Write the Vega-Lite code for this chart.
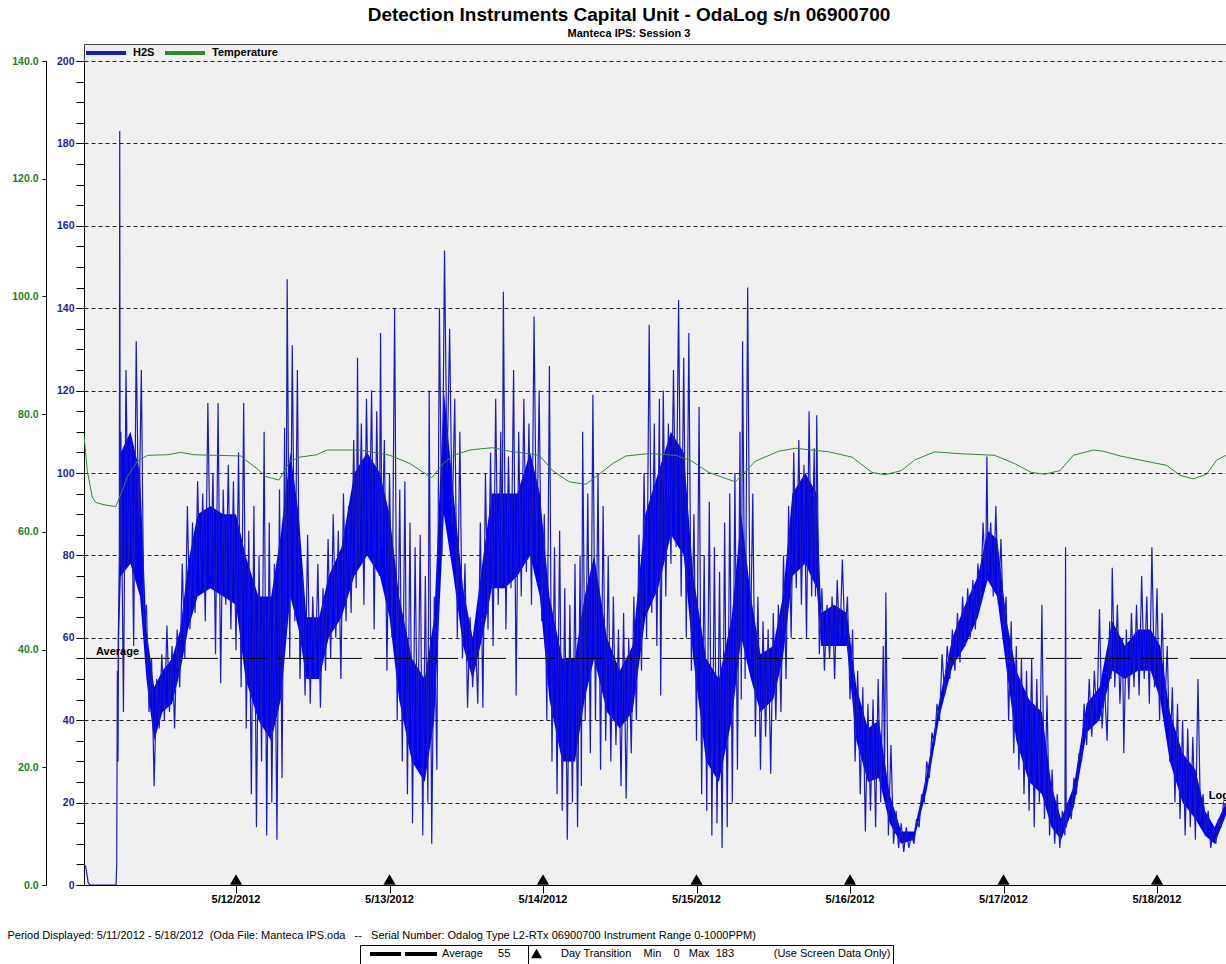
{
"$schema": "https://vega.github.io/schema/vega-lite/v6.json",
"width": 1142, "height": 841,
"autosize": {"type": "none"},
"padding": {"left": 84, "top": 44, "right": 0, "bottom": 79},
"background": "white",
"title": {"text": "Detection Instruments Capital Unit - OdaLog s/n 06900700", "subtitle": "Manteca IPS: Session 3", "anchor": "middle", "dx": -26, "fontSize": 19, "fontWeight": "bold", "color": "black", "subtitleFontSize": 11, "subtitleFontWeight": "bold", "subtitleColor": "black", "offset": 5, "subtitlePadding": 3},
"config": {"font": "Liberation Sans", "view": {"fill": "#f0f0f0", "stroke": "#404040", "strokeWidth": 1}},
"datasets": {
"h2s": [
{"t":0.24,"v":5},{"t":0.5,"v":4.5},{"t":0.9,"v":0.5},{"t":1.2,"v":0},{"t":5.0,"v":0},{"t":5.25,"v":0},{"t":5.35,"v":5},{"t":5.45,"v":52},{"t":5.55,"v":30},{"t":5.65,"v":64},{"t":5.75,"v":70},{"t":5.82,"v":183},{"t":5.9,"v":78},
{"t":6.0,"v":110},{"t":6.4,"v":42},{"t":6.8,"v":125},{"t":7.2,"v":78},{"t":7.6,"v":108},{"t":8.0,"v":58},{"t":8.4,"v":132},{"t":8.8,"v":85},{"t":9.2,"v":125},{"t":9.6,"v":62},{"t":10.0,"v":68},{"t":10.4,"v":42},{"t":10.8,"v":55},{"t":11.2,"v":24},{"t":11.6,"v":50},{"t":12.0,"v":38},{"t":12.4,"v":56},{"t":12.8,"v":40},{"t":13.2,"v":63},{"t":13.6,"v":42},{"t":14.0,"v":58},{"t":14.4,"v":38},{"t":14.8,"v":62},{"t":15.2,"v":48},{"t":15.6,"v":78},{"t":16.0,"v":55},{"t":16.4,"v":92},{"t":16.8,"v":62},{"t":17.2,"v":88},{"t":17.6,"v":66},{"t":18.0,"v":98},{"t":18.4,"v":72},{"t":18.8,"v":95},{"t":19.2,"v":64},{"t":19.6,"v":117},{"t":20.0,"v":75},{"t":20.4,"v":100},{"t":20.8,"v":56},{"t":21.2,"v":117},{"t":21.6,"v":49},{"t":22.0,"v":96},{"t":22.4,"v":68},{"t":22.8,"v":102},{"t":23.2,"v":62},{"t":23.6,"v":98},{"t":24.0,"v":57},{"t":24.4,"v":105},
{"t":24.8,"v":48},{"t":25.2,"v":117},{"t":25.6,"v":38},{"t":26.0,"v":86},{"t":26.4,"v":22},{"t":26.8,"v":92},{"t":27.2,"v":14},{"t":27.6,"v":80},{"t":28.0,"v":30},{"t":28.4,"v":110},{"t":28.8,"v":12},{"t":29.2,"v":88},{"t":29.6,"v":20},{"t":30.0,"v":78},{"t":30.4,"v":11},{"t":30.8,"v":96},{"t":31.2,"v":26},{"t":31.6,"v":111},{"t":31.8,"v":60},{"t":32.0,"v":147},{"t":32.4,"v":55},{"t":32.8,"v":131},{"t":33.2,"v":64},{"t":33.6,"v":125},{"t":34.0,"v":50},{"t":34.4,"v":75},{"t":34.8,"v":46},{"t":35.2,"v":85},{"t":35.6,"v":44},{"t":36.0,"v":70},{"t":36.4,"v":50},{"t":36.8,"v":78},{"t":37.2,"v":43},{"t":37.6,"v":72},{"t":38.0,"v":52},{"t":38.4,"v":84},{"t":38.8,"v":55},{"t":39.2,"v":90},{"t":39.6,"v":60},{"t":40.0,"v":86},{"t":40.4,"v":50},{"t":40.8,"v":95},{"t":41.2,"v":64},{"t":41.6,"v":92},{"t":42.0,"v":66},{"t":42.4,"v":108},{"t":42.8,"v":72},{"t":43.0,"v":128},{"t":43.2,"v":78},{"t":43.6,"v":112},{"t":44.0,"v":68},{"t":44.4,"v":118},{"t":44.8,"v":80},{"t":45.2,"v":120},{"t":45.6,"v":62},{"t":46.0,"v":115},{"t":46.4,"v":75},{"t":46.6,"v":134},{"t":46.8,"v":82},{"t":47.2,"v":108},{"t":47.6,"v":52},{"t":48.0,"v":100},{"t":48.4,"v":60},{"t":48.8,"v":140},
{"t":49.2,"v":40},{"t":49.6,"v":96},{"t":50.0,"v":30},{"t":50.4,"v":98},{"t":50.8,"v":22},{"t":51.2,"v":88},{"t":51.6,"v":15},{"t":52.0,"v":82},{"t":52.4,"v":30},{"t":52.8,"v":85},{"t":53.2,"v":12},{"t":53.6,"v":75},{"t":54.0,"v":20},{"t":54.2,"v":120},{"t":54.6,"v":10},{"t":55.0,"v":70},{"t":55.4,"v":28},{"t":55.8,"v":140},{"t":56.2,"v":80},{"t":56.6,"v":154},{"t":57.0,"v":100},{"t":57.4,"v":135},{"t":57.8,"v":88},{"t":58.2,"v":118},{"t":58.6,"v":60},{"t":59.0,"v":110},{"t":59.4,"v":55},{"t":59.8,"v":78},{"t":60.2,"v":43},{"t":60.6,"v":65},{"t":61.0,"v":48},{"t":61.4,"v":62},{"t":61.8,"v":44},{"t":62.2,"v":88},{"t":62.6,"v":43},{"t":63.0,"v":100},{"t":63.4,"v":62},{"t":63.8,"v":105},{"t":64.2,"v":58},{"t":64.6,"v":118},{"t":65.0,"v":68},{"t":65.4,"v":110},{"t":65.6,"v":72},{"t":65.8,"v":144},{"t":66.2,"v":62},{"t":66.6,"v":104},{"t":67.0,"v":72},{"t":67.4,"v":125},{"t":67.8,"v":46},{"t":68.2,"v":110},{"t":68.6,"v":70},{"t":69.0,"v":118},{"t":69.4,"v":76},{"t":69.8,"v":112},{"t":70.2,"v":68},{"t":70.6,"v":138},{"t":71.0,"v":78},{"t":71.4,"v":120},{"t":71.8,"v":64},
{"t":72.2,"v":90},{"t":72.6,"v":40},{"t":73.0,"v":126},{"t":73.4,"v":30},{"t":73.8,"v":82},{"t":74.2,"v":22},{"t":74.6,"v":86},{"t":75.0,"v":18},{"t":75.4,"v":72},{"t":75.8,"v":11},{"t":76.2,"v":68},{"t":76.6,"v":20},{"t":77.0,"v":78},{"t":77.4,"v":14},{"t":77.8,"v":80},{"t":78.0,"v":24},{"t":78.2,"v":110},{"t":78.6,"v":40},{"t":79.0,"v":95},{"t":79.4,"v":32},{"t":79.8,"v":119},{"t":80.2,"v":40},{"t":80.6,"v":100},{"t":81.0,"v":28},{"t":81.4,"v":92},{"t":81.8,"v":35},{"t":82.2,"v":80},{"t":82.6,"v":30},{"t":83.0,"v":70},{"t":83.4,"v":34},{"t":83.8,"v":62},{"t":84.2,"v":24},{"t":84.6,"v":66},{"t":85.0,"v":21},{"t":85.4,"v":60},{"t":85.8,"v":32},{"t":86.2,"v":70},{"t":86.6,"v":40},{"t":87.0,"v":85},{"t":87.4,"v":52},{"t":87.8,"v":100},{"t":88.2,"v":60},{"t":88.6,"v":136},{"t":89.0,"v":66},{"t":89.4,"v":112},{"t":89.8,"v":58},{"t":90.2,"v":118},{"t":90.4,"v":46},{"t":90.8,"v":120},{"t":91.2,"v":70},{"t":91.6,"v":112},{"t":92.0,"v":78},{"t":92.4,"v":125},{"t":92.8,"v":82},
{"t":93.2,"v":142},{"t":93.6,"v":70},{"t":94.0,"v":128},{"t":94.4,"v":60},{"t":94.8,"v":134},{"t":95.2,"v":52},{"t":95.6,"v":90},{"t":96.0,"v":35},{"t":96.4,"v":116},{"t":96.8,"v":22},{"t":97.2,"v":80},{"t":97.6,"v":18},{"t":98.0,"v":93},{"t":98.4,"v":12},{"t":98.8,"v":82},{"t":99.2,"v":15},{"t":99.6,"v":76},{"t":100.0,"v":9},{"t":100.4,"v":88},{"t":100.8,"v":14},{"t":101.2,"v":95},{"t":101.6,"v":20},{"t":102.0,"v":100},{"t":102.4,"v":28},{"t":102.8,"v":110},{"t":103.0,"v":45},{"t":103.2,"v":132},{"t":103.6,"v":50},{"t":104.0,"v":145},{"t":104.4,"v":55},{"t":104.8,"v":95},{"t":105.2,"v":36},{"t":105.6,"v":70},{"t":106.0,"v":28},{"t":106.4,"v":64},{"t":106.8,"v":36},{"t":107.2,"v":62},{"t":107.6,"v":27},{"t":108.0,"v":66},{"t":108.4,"v":40},{"t":108.8,"v":68},{"t":109.2,"v":42},{"t":109.6,"v":80},{"t":110.0,"v":50},{"t":110.4,"v":92},{"t":110.8,"v":60},{"t":111.2,"v":105},{"t":111.6,"v":72},{"t":112.0,"v":108},{"t":112.4,"v":68},{"t":112.8,"v":102},{"t":113.2,"v":60},{"t":113.6,"v":115},{"t":114.0,"v":70},{"t":114.4,"v":106},{"t":114.6,"v":70},{"t":114.8,"v":114},{"t":115.2,"v":56},{"t":115.6,"v":72},{"t":116.0,"v":52},{"t":116.4,"v":68},{"t":116.8,"v":55},{"t":117.2,"v":70},{"t":117.6,"v":50},{"t":118.0,"v":74},{"t":118.4,"v":58},{"t":118.8,"v":79},{"t":119.2,"v":60},{"t":119.6,"v":70},{"t":120.0,"v":45},{"t":120.4,"v":62},{"t":120.8,"v":30},{"t":121.2,"v":52},{"t":121.6,"v":22},{"t":122.0,"v":48},{"t":122.4,"v":13},{"t":122.8,"v":44},
{"t":123.2,"v":18},{"t":123.6,"v":45},{"t":124.0,"v":14},{"t":124.4,"v":50},{"t":124.8,"v":20},{"t":125.2,"v":58},{"t":125.4,"v":26},{"t":125.6,"v":71},{"t":126.0,"v":12},{"t":126.4,"v":34},{"t":126.8,"v":10},{"t":127.2,"v":18},{"t":127.6,"v":9},{"t":128.0,"v":15},{"t":128.4,"v":8},{"t":128.8,"v":14},{"t":129.2,"v":9},{"t":129.6,"v":12},{"t":130.0,"v":10},{"t":130.4,"v":16},{"t":130.8,"v":14},{"t":131.2,"v":22},{"t":131.6,"v":20},{"t":132.0,"v":30},{"t":132.4,"v":26},{"t":132.8,"v":37},{"t":133.2,"v":34},{"t":133.6,"v":44},{"t":134.0,"v":40},{"t":134.4,"v":56},{"t":134.8,"v":46},{"t":135.2,"v":58},{"t":135.6,"v":50},{"t":136.0,"v":62},{"t":136.4,"v":52},{"t":136.8,"v":66},{"t":137.2,"v":54},{"t":137.6,"v":70},{"t":138.0,"v":58},{"t":138.4,"v":72},{"t":138.8,"v":60},{"t":139.2,"v":74},{"t":139.6,"v":62},{"t":140.0,"v":78},{"t":140.4,"v":68},{"t":140.8,"v":88},{"t":141.2,"v":74},{"t":141.4,"v":104},{"t":141.6,"v":76},{"t":142.0,"v":88},{"t":142.4,"v":70},{"t":142.8,"v":92},{"t":143.2,"v":68},{"t":143.6,"v":84},{"t":144.0,"v":62},{"t":144.4,"v":70},{"t":144.8,"v":40},{"t":145.2,"v":64},{"t":145.6,"v":32},{"t":146.0,"v":58},{"t":146.4,"v":28},{"t":146.8,"v":55},{"t":147.2,"v":22},{"t":147.6,"v":52},{"t":148.0,"v":18},{"t":148.4,"v":55},{"t":148.8,"v":14},{"t":149.2,"v":50},{"t":149.6,"v":20},{"t":150.0,"v":68},{"t":150.4,"v":16},{"t":150.8,"v":46},{"t":151.2,"v":12},{"t":151.6,"v":28},{"t":152.0,"v":10},{"t":152.4,"v":22},{"t":152.8,"v":9},{"t":153.2,"v":18},{"t":153.6,"v":12},{"t":153.7,"v":82},{"t":153.8,"v":14},
{"t":154.2,"v":20},{"t":154.6,"v":16},{"t":155.0,"v":26},{"t":155.4,"v":22},{"t":155.8,"v":32},{"t":156.2,"v":30},{"t":156.6,"v":44},{"t":157.0,"v":34},{"t":157.4,"v":50},{"t":157.8,"v":36},{"t":158.2,"v":52},{"t":158.6,"v":40},{"t":159.0,"v":67},{"t":159.4,"v":38},{"t":159.8,"v":48},{"t":160.2,"v":35},{"t":160.6,"v":64},{"t":160.8,"v":50},{"t":161.0,"v":77},{"t":161.4,"v":48},{"t":161.8,"v":68},{"t":162.2,"v":44},{"t":162.6,"v":60},{"t":162.8,"v":32},{"t":163.2,"v":62},{"t":163.6,"v":45},{"t":164.0,"v":66},{"t":164.4,"v":48},{"t":164.8,"v":68},{"t":165.2,"v":46},{"t":165.6,"v":75},{"t":166.0,"v":50},{"t":166.4,"v":70},{"t":166.8,"v":44},{"t":167.2,"v":82},{"t":167.6,"v":48},{"t":168.0,"v":72},{"t":168.4,"v":40},{"t":168.8,"v":66},{"t":169.2,"v":42},{"t":169.6,"v":58},{"t":170.0,"v":30},{"t":170.4,"v":48},{"t":170.8,"v":20},{"t":171.2,"v":44},{"t":171.6,"v":16},{"t":172.0,"v":40},{"t":172.4,"v":12},{"t":172.8,"v":38},{"t":173.2,"v":14},{"t":173.6,"v":36},{"t":174.0,"v":11},{"t":174.4,"v":50},{"t":174.8,"v":16},{"t":175.2,"v":22},{"t":175.6,"v":12},{"t":176.0,"v":18},{"t":176.4,"v":9},{"t":176.8,"v":14},{"t":177.2,"v":10},{"t":177.6,"v":16},{"t":178.0,"v":14},{"t":178.4,"v":20},{"t":178.8,"v":19}
],
"core": [
{"t":5.5,"lo":50,"hi":60},{"t":6.0,"lo":75,"hi":105},{"t":7.5,"lo":78,"hi":110},{"t":9.0,"lo":70,"hi":100},{"t":10.0,"lo":50,"hi":62},{"t":11.2,"lo":35,"hi":48},{"t":12.5,"lo":42,"hi":52},{"t":14.0,"lo":44,"hi":55},{"t":15.3,"lo":52,"hi":62},{"t":16.5,"lo":62,"hi":78},{"t":18.0,"lo":70,"hi":90},{"t":20.0,"lo":72,"hi":92},{"t":22.0,"lo":70,"hi":90},{"t":24.0,"lo":68,"hi":90},{"t":25.5,"lo":50,"hi":80},{"t":27.5,"lo":40,"hi":70},{"t":29.5,"lo":35,"hi":70},{"t":31.0,"lo":45,"hi":85},{"t":32.5,"lo":70,"hi":105},{"t":33.8,"lo":62,"hi":90},{"t":35.0,"lo":50,"hi":65},{"t":37.0,"lo":50,"hi":65},{"t":38.5,"lo":60,"hi":75},{"t":40.5,"lo":65,"hi":82},{"t":42.5,"lo":75,"hi":100},{"t":44.5,"lo":80,"hi":105},{"t":46.5,"lo":75,"hi":100},{"t":48.0,"lo":65,"hi":90},{"t":49.5,"lo":45,"hi":70},{"t":51.5,"lo":30,"hi":55},{"t":53.5,"lo":25,"hi":50},{"t":55.0,"lo":40,"hi":65},{"t":56.5,"lo":90,"hi":120},{"t":58.0,"lo":75,"hi":95},{"t":59.5,"lo":58,"hi":72},{"t":61.0,"lo":50,"hi":60},{"t":62.5,"lo":60,"hi":78},{"t":64.0,"lo":72,"hi":95},{"t":66.0,"lo":72,"hi":95},{"t":68.0,"lo":75,"hi":95},{"t":70.0,"lo":80,"hi":105},{"t":71.5,"lo":70,"hi":95},{"t":73.0,"lo":45,"hi":70},{"t":75.0,"lo":30,"hi":55},{"t":77.0,"lo":30,"hi":55},{"t":78.5,"lo":45,"hi":70},{"t":80.0,"lo":55,"hi":80},{"t":82.0,"lo":42,"hi":60},{"t":84.0,"lo":38,"hi":52},{"t":86.0,"lo":42,"hi":58},{"t":88.0,"lo":65,"hi":90},{"t":90.0,"lo":72,"hi":100},{"t":92.0,"lo":85,"hi":110},{"t":94.0,"lo":80,"hi":105},{"t":95.5,"lo":55,"hi":75},{"t":97.5,"lo":30,"hi":55},{"t":99.5,"lo":25,"hi":50},{"t":101.5,"lo":40,"hi":65},{"t":103.0,"lo":60,"hi":90},{"t":104.5,"lo":50,"hi":70},{"t":106.0,"lo":42,"hi":56},{"t":108.0,"lo":45,"hi":58},{"t":109.5,"lo":55,"hi":70},{"t":111.0,"lo":75,"hi":95},{"t":113.0,"lo":78,"hi":100},{"t":114.8,"lo":72,"hi":95},{"t":115.5,"lo":58,"hi":66},{"t":117.5,"lo":58,"hi":68},{"t":119.5,"lo":58,"hi":66},{"t":121.0,"lo":35,"hi":48},{"t":122.8,"lo":25,"hi":38},{"t":124.5,"lo":26,"hi":40},{"t":126.2,"lo":15,"hi":22},{"t":128.0,"lo":10,"hi":13},{"t":130.0,"lo":11,"hi":13},{"t":132.0,"lo":23,"hi":27},{"t":134.0,"lo":41,"hi":45},{"t":136.0,"lo":53,"hi":60},{"t":138.0,"lo":58,"hi":68},{"t":140.0,"lo":65,"hi":75},{"t":141.5,"lo":74,"hi":86},{"t":143.0,"lo":70,"hi":84},{"t":144.5,"lo":52,"hi":64},{"t":146.0,"lo":35,"hi":52},{"t":148.0,"lo":25,"hi":45},{"t":150.0,"lo":22,"hi":42},{"t":151.5,"lo":14,"hi":24},{"t":153.0,"lo":11,"hi":16},{"t":155.0,"lo":19,"hi":24},{"t":157.0,"lo":37,"hi":44},{"t":159.0,"lo":40,"hi":48},{"t":161.0,"lo":52,"hi":64},{"t":163.0,"lo":50,"hi":58},{"t":165.0,"lo":52,"hi":62},{"t":167.0,"lo":52,"hi":62},{"t":168.5,"lo":45,"hi":58},{"t":170.0,"lo":30,"hi":42},{"t":172.0,"lo":20,"hi":32},{"t":174.0,"lo":16,"hi":28},{"t":175.5,"lo":12,"hi":18},{"t":177.0,"lo":10,"hi":14},{"t":178.8,"lo":17,"hi":20}
],
"temp": [
{"t":0.24,"v":76.3},{"t":0.76,"v":70.3},{"t":1.53,"v":65.9},{"t":2.06,"v":65.0},{"t":3.37,"v":64.6},{"t":5.19,"v":64.3},{"t":5.97,"v":66.3},{"t":7.01,"v":69.4},{"t":8.58,"v":72.0},{"t":10.14,"v":73.0},{"t":13.27,"v":73.1},{"t":15.35,"v":73.5},{"t":17.44,"v":73.1},{"t":24.73,"v":72.9},{"t":25.25,"v":72.4},{"t":27.34,"v":70.7},{"t":28.64,"v":69.4},{"t":30.72,"v":68.8},{"t":32.44,"v":72.0},{"t":34.01,"v":72.7},{"t":36.61,"v":73.1},{"t":38.18,"v":73.9},{"t":43.39,"v":73.9},{"t":48.08,"v":73.0},{"t":51.2,"v":71.6},{"t":53.29,"v":70.1},{"t":54.59,"v":69.2},{"t":56.41,"v":71.6},{"t":57.98,"v":73.0},{"t":60.58,"v":73.9},{"t":62.15,"v":74.1},{"t":64.13,"v":74.3},{"t":66.73,"v":73.7},{"t":71.42,"v":73.0},{"t":73.51,"v":70.4},{"t":76.11,"v":68.5},{"t":78.72,"v":68.1},{"t":80.8,"v":69.8},{"t":82.89,"v":71.6},{"t":84.97,"v":72.9},{"t":88.62,"v":73.3},{"t":92.79,"v":73.0},{"t":95.3,"v":72.0},{"t":97.9,"v":70.1},{"t":102.07,"v":68.5},{"t":105.2,"v":72.0},{"t":108.85,"v":73.7},{"t":111.45,"v":74.2},{"t":116.66,"v":73.6},{"t":120.31,"v":72.7},{"t":123.44,"v":70.1},{"t":125.42,"v":69.7},{"t":128.02,"v":70.4},{"t":130.11,"v":72.2},{"t":133.23,"v":73.6},{"t":136.88,"v":73.3},{"t":142.61,"v":73.0},{"t":145.74,"v":71.6},{"t":148.34,"v":70.1},{"t":150.43,"v":69.8},{"t":152.83,"v":70.4},{"t":154.91,"v":73.0},{"t":158.04,"v":73.9},{"t":159.6,"v":73.7},{"t":162.21,"v":72.9},{"t":165.34,"v":72.2},{"t":169.51,"v":71.3},{"t":171.59,"v":69.6},{"t":173.67,"v":69.0},{"t":175.76,"v":69.8},{"t":177.32,"v":72.2},{"t":178.78,"v":73.0}
],
"days": [{"t":24,"label":"5/12/2012"},{"t":48,"label":"5/13/2012"},{"t":72,"label":"5/14/2012"},{"t":96,"label":"5/15/2012"},{"t":120,"label":"5/16/2012"},{"t":144,"label":"5/17/2012"},{"t":168,"label":"5/18/2012"}],
"avg": [{"avg":55,"label":"Average"}]
},
"layer": [
{"data": {"name": "core"},
 "mark": {"type": "area", "color": "#0000f2", "opacity": 1, "clip": true},
 "encoding": {
  "x": {"field": "t", "type": "quantitative", "scale": {"domain": [0.235, 178.785], "nice": false, "zero": false},
   "axis": {"values": [24,48,72,96,120,144,168], "labels": false, "tickSize": 8, "tickColor": "black", "domainColor": "black", "grid": false,
    "title": "Period Displayed: 5/11/2012 - 5/18/2012 \u00a0(Oda File: Manteca IPS.oda \u00a0 -- \u00a0 Serial Number: Odalog Type L2-RTx 06900700 Instrument Range 0-1000PPM)",
    "titleX": -77, "titleY": 53, "titleAlign": "left", "titleAnchor": "start", "titleBaseline": "alphabetic", "titleFontWeight": "normal", "titleFontSize": 11, "titleColor": "black"}},
  "y": {"field": "lo", "type": "quantitative", "scale": {"domain": [0, 200], "range": [841, 17], "nice": false, "zero": false},
   "axis": {"orient": "left", "values": [0,20,40,60,80,100,120,140,160,180,200], "labelFontWeight": "bold", "labelFontSize": 10.5, "labelColor": "#1d1d98", "tickSize": 8, "tickColor": "black", "domainColor": "black", "labelPadding": 2, "title": null,
    "grid": true, "gridColor": "#202020", "gridDash": [4, 3], "gridOpacity": 1}},
  "y2": {"field": "hi"}
 }},
{"data": {"name": "h2s"},
 "mark": {"type": "line", "strokeWidth": 1.2, "clip": true},
 "encoding": {
  "x": {"field": "t", "type": "quantitative"},
  "y": {"field": "v", "type": "quantitative", "scale": {"domain": [0, 200], "range": [841, 17], "nice": false, "zero": false},
   "axis": {"orient": "left", "values": [0,5,10,15,20,25,30,35,40,45,50,55,60,65,70,75,80,85,90,95,100,105,110,115,120,125,130,135,140,145,150,155,160,165,170,175,180,185,190,195,200], "labels": false, "tickSize": 8, "tickColor": "black", "domainColor": "black", "grid": false, "title": null}},
  "color": {"datum": "H2S", "scale": {"domain": ["H2S", "Temperature"], "range": ["#1a1abf", "#2f8a2f"]},
   "legend": {"orient": "none", "legendX": 0, "legendY": 1, "direction": "horizontal", "title": null, "symbolType": "M-1,0H5.67", "symbolSize": 144, "symbolStrokeWidth": 4, "labelFontSize": 11, "labelFontWeight": "bold", "labelColor": "black", "labelOffset": 33, "columnPadding": 2, "padding": 0}}
 }},
{"data": {"name": "avg"},
 "mark": {"type": "rule", "color": "black", "strokeWidth": 1},
 "encoding": {
  "y": {"field": "avg", "type": "quantitative", "scale": {"domain": [0, 200], "range": [841, 17], "nice": false, "zero": false}, "axis": null},
  "strokeDash": {"datum": "Average\u00a0\u00a0\u00a0\u00a0\u00a055\u00a0\u00a0\u00a0\u00a0\u00a0\u200b", "scale": {"range": [[36, 12]]},
   "legend": {"orient": "none", "legendX": 276, "legendY": 901, "title": null, "symbolType": "M0.2,0H6.4M7.2,0H13.6", "symbolSize": 100, "symbolStrokeWidth": 4, "symbolStrokeColor": "black", "labelOffset": 66, "labelFontSize": 11, "labelColor": "black", "padding": 2, "strokeColor": "black", "fillColor": "white", "labelLimit": 0,
    "encode": {"symbols": {"update": {"strokeDash": {"value": [1, 0]}}}}}}
 }},
{"data": {"name": "avg"},
 "mark": {"type": "text", "align": "left", "baseline": "alphabetic", "dy": -3, "fontWeight": "bold", "fontSize": 11, "color": "black"},
 "encoding": {
  "x": {"datum": 2.11, "type": "quantitative"},
  "y": {"field": "avg", "type": "quantitative", "scale": {"domain": [0, 200], "range": [841, 17], "nice": false, "zero": false}, "axis": null},
  "text": {"field": "label"}
 }},
{"data": {"name": "days"},
 "mark": {"type": "point", "filled": true, "size": 150, "color": "black", "opacity": 1},
 "encoding": {
  "x": {"field": "t", "type": "quantitative"},
  "y": {"datum": 1.35, "type": "quantitative", "scale": {"domain": [0, 200], "range": [841, 17], "nice": false, "zero": false}, "axis": null},
  "shape": {"datum": "Day Transition\u00a0\u00a0\u00a0\u00a0Min\u00a0\u00a0\u00a0\u00a00\u00a0\u00a0\u00a0Max\u00a0\u00a0183\u00a0\u00a0\u00a0\u00a0\u00a0\u00a0\u00a0\u00a0\u00a0\u00a0\u00a0\u00a0\u00a0(Use Screen Data Only)", "scale": {"range": ["triangle-up"]},
   "legend": {"orient": "none", "legendX": 444, "legendY": 901, "title": null, "symbolSize": 120, "symbolFillColor": "black", "symbolStrokeColor": "black", "labelOffset": 18, "labelFontSize": 11, "labelColor": "black", "padding": 2, "strokeColor": "black", "fillColor": "white", "labelLimit": 0}}
 }},
{"data": {"name": "days"},
 "mark": {"type": "text", "align": "center", "baseline": "top", "fontWeight": "bold", "fontSize": 11, "color": "black"},
 "encoding": {
  "x": {"field": "t", "type": "quantitative"},
  "y": {"datum": -2.3, "type": "quantitative", "scale": {"domain": [0, 200], "range": [841, 17], "nice": false, "zero": false}, "axis": null},
  "text": {"field": "label"}
 }},
{"data": {"values": [{"label": "Log End"}]},
 "mark": {"type": "text", "align": "left", "baseline": "middle", "fontWeight": "bold", "fontSize": 11, "color": "black", "clip": true},
 "encoding": {
  "x": {"datum": 176.1, "type": "quantitative"},
  "y": {"datum": 21.5, "type": "quantitative", "scale": {"domain": [0, 200], "range": [841, 17], "nice": false, "zero": false}, "axis": null},
  "text": {"field": "label"}
 }},
{"data": {"name": "temp"},
 "mark": {"type": "line", "strokeWidth": 1, "clip": true},
 "encoding": {
  "x": {"field": "t", "type": "quantitative"},
  "y": {"field": "v", "type": "quantitative", "scale": {"domain": [0, 140], "range": [841, 17], "nice": false, "zero": false},
   "axis": {"orient": "left", "offset": 38, "values": [0,20,40,60,80,100,120,140], "format": ".1f", "labelFontWeight": "bold", "labelFontSize": 10.5, "labelColor": "#1e7d1e", "tickSize": 4, "tickColor": "black", "domainColor": "black", "labelPadding": 4, "title": null, "grid": false}},
  "color": {"datum": "Temperature", "legend": null}
 }}
],
"resolve": {"scale": {"y": "independent"}}
}
